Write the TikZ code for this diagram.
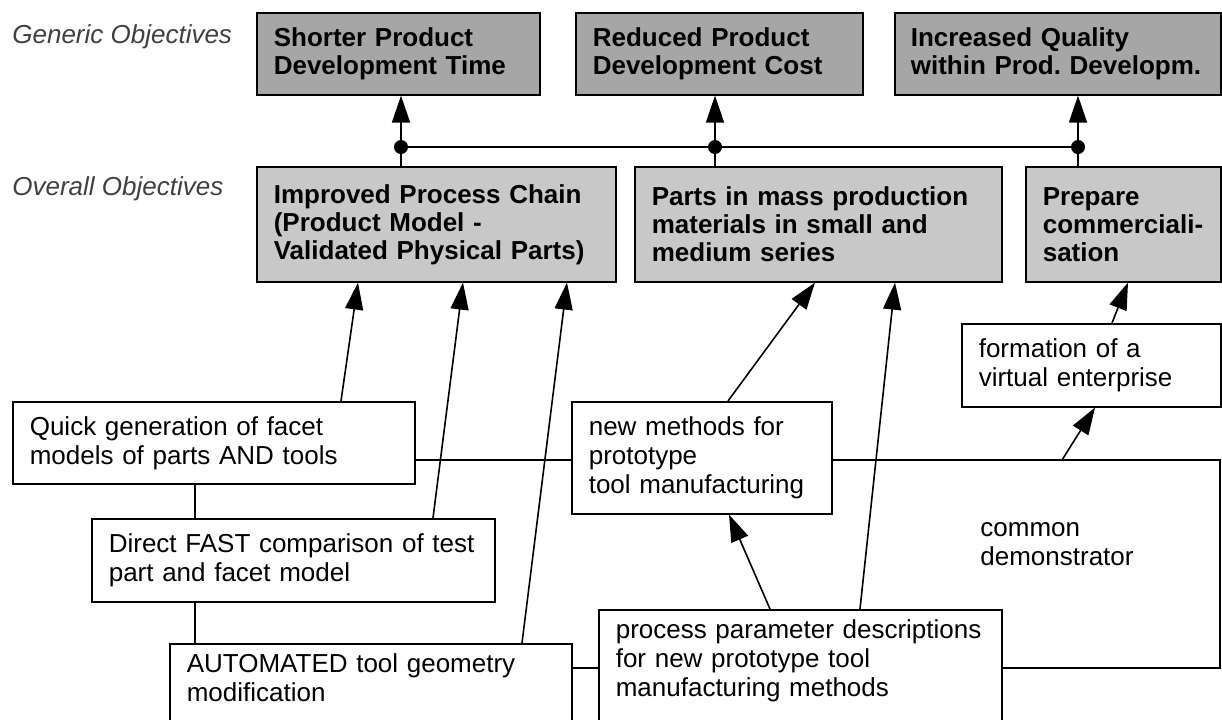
\documentclass[tikz,border=0pt]{standalone}
\usepackage{fontspec}
\setmainfont{Liberation Sans}
\usepackage{tikz}
\usetikzlibrary{arrows.meta, calc}
\definecolor{genericgray}{RGB}{166,166,166}
\definecolor{overallgray}{RGB}{200,200,200}
\frenchspacing

\begin{document}
\begin{tikzpicture}[
    x=0.5pt, y=-0.5pt,
    font=\fontsize{13}{14.5}\selectfont,
    genbox/.style={draw, line width=0.8pt, fill=genericgray, anchor=north west, align=left,
                   inner xsep=8.5pt, font=\fontsize{13}{14}\selectfont\bfseries},
    ovbox/.style={genbox, fill=overallgray},
    taskbox/.style={draw, line width=0.8pt, fill=white, anchor=north west, align=left, inner xsep=8.5pt},
    cutbox/.style={taskbox, inner ysep=0pt, text height=14.5pt},
    pointer/.style={-{Triangle[length=13.5pt, width=9pt]}, line width=0.8pt},
    link/.style={line width=0.8pt},
    joint/.style={circle, fill, inner sep=0pt, minimum size=7pt},
    heading/.style={anchor=base west, inner sep=0pt, font=\fontsize{13}{14.5}\selectfont\itshape, text=black!75}
  ]
    \useasboundingbox (0,0) rectangle (1222,719);

    \node[heading] (gen) at (12,43) {Generic Objectives};
    \node[heading] (ovr) at (12,195) {Overall Objectives};

    \node[genbox, text width=124.5pt, minimum height=41pt] (g1) at (256,12) {Shorter Product\\Development Time};
    \node[genbox, text width=126.5pt, minimum height=41pt] (g2) at (575,12) {Reduced Product\\Development Cost};
    \node[genbox, inner xsep=8pt, text width=147pt, minimum height=41pt] (g3) at (894,12) {Increased Quality\\within Prod. Developm.};

    \node[ovbox, text width=162.5pt, minimum height=57.5pt] (o1) at (256,166) {Improved Process Chain\\(Product Model -\\Validated Physical Parts)};
    \node[ovbox, text width=166.5pt, minimum height=57.5pt] (o2) at (634,166) {Parts in mass production\\materials in small and\\medium series};
    \node[ovbox, text width=80.5pt, minimum height=57.5pt] (o3) at (1025,166) {Prepare\\commerciali-\\sation};

    \node[joint] (j1) at (401,147) {};
    \node[joint] (j2) at (715,147) {};
    \node[joint] (j3) at (1078,147) {};
    \draw[link] (j1) -- (j2) -- (j3);
    \foreach \j/\g/\o in {j1/g1/o1, j2/g2/o2, j3/g3/o3} {
      \draw[pointer] (\j) -- (\j |- \g.south);
      \draw[link] (\j) -- (\j |- \o.north);
    }

    \node[taskbox, text width=112.5pt, minimum height=41.5pt] (firm) at (961,323) {formation of a\\virtual enterprise};
    \node[taskbox, text width=184pt, minimum height=41pt] (quick) at (12,401) {Quick generation of facet\\models of parts AND tools};
    \node[taskbox, text width=113pt, minimum height=56pt] (methods) at (571,401) {new methods for\\prototype\\tool manufacturing};
    \node[taskbox, text width=184.5pt, minimum height=41.5pt] (direct) at (91,518) {Direct FAST comparison of test\\part and facet model};
    \node[cutbox, text width=184.5pt, text depth=51pt] (proc) at (598,609) {process parameter descriptions\\for new prototype tool\\manufacturing methods};
    \node[cutbox, text width=184pt, text depth=33.5pt] (auto) at (169,643) {AUTOMATED tool geometry\\modification};
    \node[anchor=base west, inner sep=0pt, text width=100pt, align=left] (demo) at (980,536) {common\\demonstrator};

    \coordinate (ne) at (1220,460);
    \coordinate (se) at (1220,668);
    \draw[link] (quick.east |- ne) -- (methods.west |- ne);
    \draw[link] (methods.east |- ne) -- (ne) -- (se) -- (proc.east |- se);
    \draw[link] (auto.east |- se) -- (proc.west |- se);
    \draw[link] ($(quick.south west)+(183,0)$) coordinate (sp) -- (sp |- direct.north);
    \draw[link] (sp |- direct.south) -- (sp |- auto.north);

    \draw[pointer] ($(quick.north west)+(329,0)$) -- ($(o1.south west)+(102,0)$);
    \draw[pointer] ($(direct.north west)+(342,0)$) -- ($(o1.south west)+(207,0)$);
    \draw[pointer] ($(auto.north west)+(353,0)$) -- ($(o1.south west)+(311,0)$);
    \draw[pointer] ($(methods.north west)+(157,0)$) -- ($(o2.south west)+(181,0)$);
    \draw[pointer] ($(proc.north west)+(262,0)$) -- ($(o2.south west)+(261,0)$);
    \draw[pointer] ($(proc.north west)+(172,0)$) -- ($(methods.south west)+(158,0)$);
    \draw[pointer] ($(ne)+(-158,0)$) -- ($(firm.south west)+(134,0)$);
    \draw[pointer] ($(firm.north west)+(151,0)$) -- ($(o3.south west)+(103,0)$);
  \end{tikzpicture}
\end{document}
